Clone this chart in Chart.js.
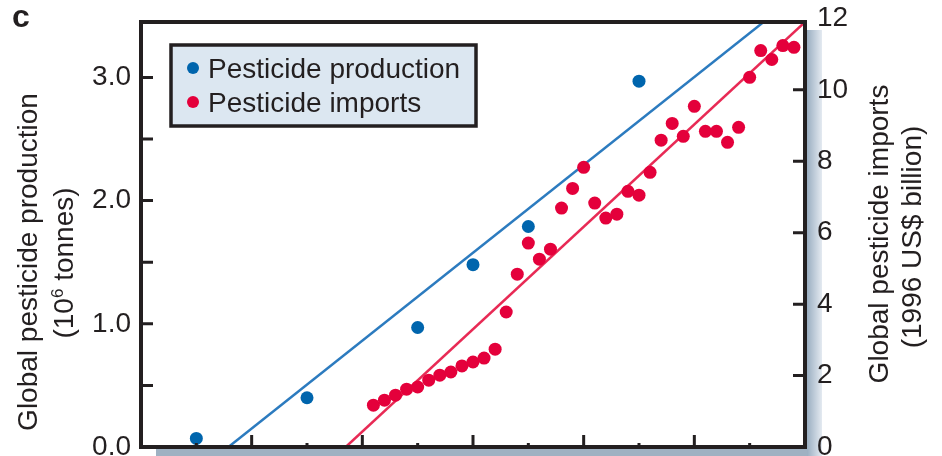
<!DOCTYPE html>
<html>
<head>
<meta charset="utf-8">
<script src="https://cdn.jsdelivr.net/npm/chart.js@4.4.1/dist/chart.umd.min.js"></script>
<style>
  html, body { margin: 0; padding: 0; background: #fff; }
  #wrap { width: 942px; height: 456px; }
</style>
</head>
<body>
<div id="wrap"><canvas id="chart" width="942" height="456"></canvas></div>
<script>
// production, 10^6 tonnes (left axis)
const productionYears = [1945, 1955, 1965, 1970, 1975, 1985];
const productionValues = [0.07, 0.40, 0.97, 1.48, 1.79, 2.97];

// imports, 1996 US$ billion (right axis)
const importYears = [1961, 1962, 1963, 1964, 1965, 1966, 1967, 1968, 1969, 1970,
  1971, 1972, 1973, 1974, 1975, 1976, 1977, 1978, 1979, 1980,
  1981, 1982, 1983, 1984, 1985, 1986, 1987, 1988, 1989, 1990,
  1991, 1992, 1993, 1994, 1995, 1996, 1997, 1998, 1999];
const importValues = [1.17, 1.31, 1.45, 1.62, 1.68, 1.87, 2.01, 2.10, 2.27, 2.38,
  2.49, 2.74, 3.78, 4.84, 5.71, 5.26, 5.54, 6.69, 7.24, 7.83,
  6.83, 6.41, 6.52, 7.16, 7.05, 7.69, 8.59, 9.06, 8.70, 9.54,
  8.84, 8.84, 8.53, 8.95, 10.35, 11.10, 10.85, 11.24, 11.19];

// fitted lines, end points
const productionFitYears = [1947.9, 1996.4];
const productionFitValues = [0, 3.46];
const importFitYears = [1958.5, 2000];
const importFitValues = [0, 11.9];

// ticks
const yearTicks = [1945, 1950, 1955, 1960, 1965, 1970, 1975, 1980, 1985, 1990, 1995];
const yearMajorTicks = [1950, 1960, 1970, 1980, 1990];
const leftTicks = [0, 0.5, 1, 1.5, 2, 2.5, 3];
const leftLabelValues = [0, 1, 2, 3];
const leftLabels = ['0.0', '1.0', '2.0', '3.0'];
const rightTicks = [0, 1, 2, 3, 4, 5, 6, 7, 8, 9, 10, 11, 12];
const rightLabelValues = [0, 2, 4, 6, 8, 10, 12];
const rightLabels = ['0', '2', '4', '6', '8', '10', '12'];

const INK = '#231f20';
const BLUE = '#0065ad';
const RED = '#e4003b';
const FONT = "'Liberation Sans', Arial, sans-serif";

function points(xs, ys) {
  return xs.map((x, i) => ({ x, y: ys[i] }));
}

function labelFor(values, labels) {
  return value => {
    const i = values.findIndex(v => Math.abs(v - value) < 1e-6);
    return i >= 0 ? labels[i] : '';
  };
}

function setTicks(list) {
  return scale => { scale.ticks = list.map(value => ({ value })); };
}

// fixed box sizes, no extra room for overhanging labels
function fixBox(size) {
  return scale => {
    if (scale.isHorizontal()) scale.height = size;
    else scale.width = size;
    scale.paddingTop = 0;
    scale.paddingBottom = 0;
    scale.paddingLeft = 0;
    scale.paddingRight = 0;
  };
}

const framePlugin = {
  id: 'frame',
  beforeDraw(chart) {
    const ctx = chart.ctx;
    const a = chart.chartArea;
    ctx.save();
    // drop shadow right and below the frame
    const gr = ctx.createLinearGradient(a.right + 2, 0, a.right + 17, 0);
    gr.addColorStop(0, '#9aaec1');
    gr.addColorStop(1, '#e4eaf1');
    ctx.fillStyle = gr;
    ctx.fillRect(a.right + 2, a.top + 8, 15, chart.height - a.top - 8);
    ctx.fillStyle = '#9fb1c2';
    ctx.fillRect(a.left + 15, a.bottom + 2, a.right - a.left - 13, chart.height - a.bottom - 2);
    ctx.restore();
  },
  afterDraw(chart) {
    const ctx = chart.ctx;
    const a = chart.chartArea;
    const { x, yProd, yImp } = chart.scales;
    ctx.save();
    ctx.strokeStyle = INK;
    ctx.lineWidth = 4;
    ctx.strokeRect(a.left, a.top, a.right - a.left, a.bottom - a.top);

    // inward tick marks
    ctx.lineWidth = 3;
    ctx.beginPath();
    yProd.ticks.forEach(t => {
      const py = yProd.getPixelForValue(t.value);
      if (py >= a.bottom - 1 || py <= a.top + 1) return;
      ctx.moveTo(a.left, py); ctx.lineTo(a.left + 12, py);
    });
    yImp.ticks.forEach(t => {
      const py = yImp.getPixelForValue(t.value);
      if (py >= a.bottom - 1 || py <= a.top + 1) return;
      ctx.moveTo(a.right, py); ctx.lineTo(a.right - 12, py);
    });
    x.ticks.forEach(t => {
      const px = x.getPixelForValue(t.value);
      const len = yearMajorTicks.includes(t.value) ? 12 : 4;
      ctx.moveTo(px, a.bottom); ctx.lineTo(px, a.bottom - len);
    });
    ctx.stroke();

    // legend box
    const sets = chart.data.datasets.slice(0, 2);
    ctx.fillStyle = '#dce7f1';
    ctx.fillRect(171, 45, 305, 81);
    ctx.lineWidth = 3.5;
    ctx.strokeRect(171, 45, 305, 81);
    ctx.font = '28px ' + FONT;
    ctx.textBaseline = 'alphabetic';
    ctx.textAlign = 'left';
    sets.forEach((ds, i) => {
      const cy = 68 + i * 34;
      ctx.fillStyle = ds.backgroundColor;
      ctx.beginPath();
      ctx.arc(193, cy, 6, 0, Math.PI * 2);
      ctx.fill();
      ctx.fillStyle = INK;
      ctx.fillText(ds.label, 208, 78 + i * 34);
    });

    // axis titles
    ctx.fillStyle = INK;
    ctx.textAlign = 'center';
    const vertical = (text, bx, cy) => {
      ctx.save();
      ctx.translate(bx, cy);
      ctx.rotate(-Math.PI / 2);
      ctx.fillText(text, 0, 0);
      ctx.restore();
    };
    vertical('Global pesticide production', 37, 262);
    // "(10^6 tonnes)" with raised 6
    ctx.save();
    ctx.translate(72.5, 263);
    ctx.rotate(-Math.PI / 2);
    ctx.textAlign = 'left';
    const p1 = '(10', p3 = ' tonnes)';
    ctx.font = '28px ' + FONT;
    const w1 = ctx.measureText(p1).width, w3 = ctx.measureText(p3).width;
    ctx.font = '17px ' + FONT;
    const w2 = ctx.measureText('6').width;
    const sx = -(w1 + w2 + w3) / 2;
    ctx.font = '28px ' + FONT;
    ctx.fillText(p1, sx, 0);
    ctx.font = '17px ' + FONT;
    ctx.fillText('6', sx + w1, -10);
    ctx.font = '28px ' + FONT;
    ctx.fillText(p3, sx + w1 + w2, 0);
    ctx.restore();

    vertical('Global pesticide imports', 888, 234);
    vertical('(1996 US$ billion)', 920.5, 237);

    // panel letter
    ctx.textAlign = 'left';
    ctx.font = 'bold 32px ' + FONT;
    ctx.fillText('c', 12, 27);
    ctx.restore();
  }
};

new Chart(document.getElementById('chart'), {
  type: 'scatter',
  data: {
    datasets: [
      {
        label: 'Pesticide production',
        data: points(productionYears, productionValues),
        yAxisID: 'yProd',
        backgroundColor: BLUE,
        borderColor: BLUE,
        pointRadius: 6.5,
        pointBorderWidth: 0,
        order: 1
      },
      {
        label: 'Pesticide imports',
        data: points(importYears, importValues),
        yAxisID: 'yImp',
        backgroundColor: RED,
        borderColor: RED,
        pointRadius: 6.5,
        pointBorderWidth: 0,
        order: 1
      },
      {
        label: 'Production trend',
        data: points(productionFitYears, productionFitValues),
        yAxisID: 'yProd',
        showLine: true,
        borderColor: '#2c7bbf',
        borderWidth: 2.5,
        pointRadius: 0,
        order: 2
      },
      {
        label: 'Imports trend',
        data: points(importFitYears, importFitValues),
        yAxisID: 'yImp',
        showLine: true,
        borderColor: '#e82a55',
        borderWidth: 2.5,
        pointRadius: 0,
        order: 2
      }
    ]
  },
  options: {
    responsive: false,
    animation: false,
    layout: { padding: { top: 22, left: 0, right: 0, bottom: 0 } },
    plugins: { legend: { display: false }, tooltip: { enabled: false } },
    scales: {
      x: {
        type: 'linear',
        min: 1940,
        max: 2000,
        afterBuildTicks: setTicks(yearTicks),
        afterFit: fixBox(9),
        ticks: { display: false },
        grid: { display: false, drawTicks: false },
        border: { display: false }
      },
      yProd: {
        type: 'linear',
        position: 'left',
        min: 0,
        max: 3.45,
        afterBuildTicks: setTicks(leftTicks),
        afterFit: fixBox(141),
        ticks: {
          padding: 10,
          color: INK,
          font: { family: FONT, size: 28 },
          callback: labelFor(leftLabelValues, leftLabels)
        },
        grid: { display: false, drawTicks: false },
        border: { display: false }
      },
      yImp: {
        type: 'linear',
        position: 'right',
        min: 0,
        max: 11.9,
        afterBuildTicks: setTicks(rightTicks),
        afterFit: fixBox(137),
        ticks: {
          padding: 12,
          color: INK,
          font: { family: FONT, size: 28 },
          callback: labelFor(rightLabelValues, rightLabels)
        },
        grid: { display: false, drawTicks: false },
        border: { display: false }
      }
    }
  },
  plugins: [framePlugin]
});
</script>
</body>
</html>
